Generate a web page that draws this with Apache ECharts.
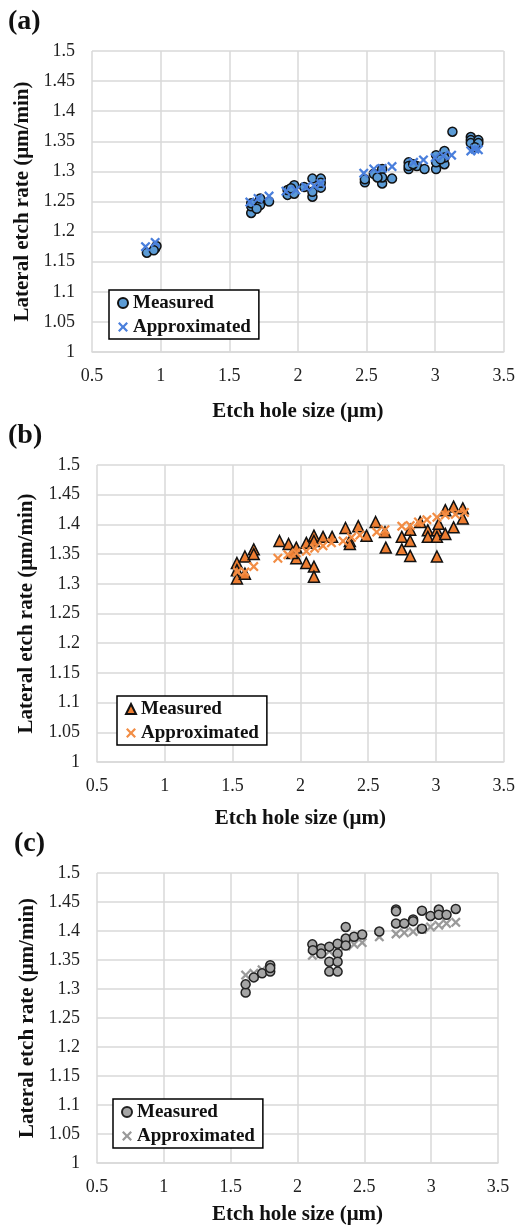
<!DOCTYPE html>
<html>
<head>
<meta charset="utf-8">
<script src="https://cdn.jsdelivr.net/npm/echarts@6/dist/echarts.min.js"></script>
<style>
  html, body { margin: 0; padding: 0; background: #fff; }
  #chart { width: 518px; height: 1226px; }
</style>
</head>
<body>
<div id="chart"></div>
<script>
// 三个子图的数据 (a) (b) (c)，[孔径 μm, 横向刻蚀速率 μm/min]
const aMeasured = [
  [0.90, 1.165], [0.96, 1.172], [0.97, 1.176], [0.95, 1.169],
  [1.66, 1.231], [1.66, 1.242], [1.66, 1.247], [1.725, 1.244], [1.725, 1.255], [1.79, 1.250], [1.70, 1.238],
  [1.925, 1.261], [1.925, 1.269], [1.973, 1.277], [1.973, 1.263], [2.046, 1.274], [2.106, 1.288],
  [2.106, 1.258], [2.167, 1.288], [2.167, 1.273], [2.106, 1.266], [2.167, 1.281], [1.95, 1.272],
  [2.488, 1.282], [2.488, 1.287], [2.553, 1.296], [2.614, 1.304], [2.614, 1.280], [2.614, 1.290],
  [2.686, 1.288], [2.58, 1.290],
  [2.807, 1.315], [2.807, 1.304], [2.867, 1.309], [2.923, 1.304], [2.807, 1.309], [2.84, 1.312],
  [3.007, 1.304], [3.007, 1.315], [3.007, 1.327], [3.068, 1.334], [3.068, 1.312], [3.068, 1.323],
  [3.04, 1.320], [3.126, 1.366],
  [3.26, 1.357], [3.26, 1.352], [3.26, 1.347], [3.315, 1.352], [3.315, 1.347], [3.29, 1.340]
];
const aApprox = [
  [0.89, 1.175], [0.96, 1.182],
  [1.65, 1.249], [1.71, 1.255], [1.79, 1.259],
  [1.913, 1.267], [1.985, 1.269], [2.058, 1.274], [2.118, 1.276], [2.167, 1.280],
  [2.48, 1.297], [2.553, 1.304], [2.614, 1.305], [2.686, 1.308],
  [2.843, 1.315], [2.915, 1.319],
  [3.0, 1.323], [3.06, 1.326], [3.12, 1.327],
  [3.26, 1.334], [3.29, 1.337], [3.315, 1.336]
];

const bMeasured = [
  [1.532, 1.335], [1.532, 1.323], [1.532, 1.309], [1.591, 1.346], [1.591, 1.317], [1.656, 1.358], [1.656, 1.350],
  [1.846, 1.372], [1.913, 1.367], [1.97, 1.361], [1.97, 1.343], [2.044, 1.369], [2.044, 1.335],
  [2.1, 1.381], [2.1, 1.372], [2.1, 1.329], [2.1, 1.312], [2.167, 1.379], [2.234, 1.379], [1.94, 1.352],
  [2.333, 1.394], [2.365, 1.372], [2.365, 1.367], [2.427, 1.397], [2.488, 1.381], [2.555, 1.404],
  [2.624, 1.387], [2.63, 1.361],
  [2.748, 1.379], [2.748, 1.358], [2.81, 1.391], [2.81, 1.372], [2.81, 1.347], [2.884, 1.404],
  [2.94, 1.390], [2.94, 1.379], [3.007, 1.390], [3.007, 1.379], [3.007, 1.346], [3.069, 1.384],
  [3.069, 1.424], [3.13, 1.430], [3.13, 1.395], [3.198, 1.427], [3.198, 1.410], [3.02, 1.401]
];
const bApprox = [
  [1.537, 1.320], [1.591, 1.320], [1.656, 1.329], [1.834, 1.343], [1.908, 1.349], [1.97, 1.352],
  [2.044, 1.355], [2.105, 1.360], [2.167, 1.364], [2.229, 1.369], [2.315, 1.372], [2.377, 1.378],
  [2.439, 1.382], [2.563, 1.387], [2.624, 1.391], [2.748, 1.397], [2.81, 1.398], [2.871, 1.404],
  [2.933, 1.408], [3.007, 1.412], [3.069, 1.416], [3.143, 1.417], [3.21, 1.420]
];

const cMeasured = [
  [1.612, 1.294], [1.612, 1.308], [1.673, 1.320], [1.735, 1.327], [1.796, 1.330], [1.796, 1.341], [1.796, 1.336],
  [2.111, 1.377], [2.177, 1.370], [2.177, 1.361], [2.238, 1.373], [2.238, 1.347], [2.238, 1.330],
  [2.3, 1.378], [2.3, 1.361], [2.3, 1.347], [2.3, 1.330], [2.361, 1.407], [2.361, 1.387], [2.361, 1.375],
  [2.423, 1.390], [2.484, 1.394], [2.115, 1.367],
  [2.612, 1.399],
  [2.737, 1.437], [2.737, 1.434], [2.737, 1.413], [2.799, 1.413], [2.865, 1.420], [2.865, 1.417],
  [2.931, 1.435], [2.931, 1.404], [2.995, 1.426], [3.057, 1.437], [3.057, 1.428], [3.115, 1.428], [3.184, 1.438]
];
const cApprox = [
  [1.612, 1.324], [1.673, 1.327], [1.735, 1.333], [1.796, 1.337],
  [2.111, 1.358], [2.177, 1.361], [2.238, 1.365], [2.3, 1.370], [2.361, 1.374], [2.423, 1.377], [2.484, 1.380],
  [2.612, 1.390], [2.737, 1.395], [2.799, 1.397], [2.865, 1.399], [2.931, 1.403], [2.995, 1.407],
  [3.057, 1.410], [3.115, 1.413], [3.184, 1.415]
];

const FONT = 'Liberation Serif';
// 叉号：填充多边形，避免 path 只描边
const CROSS = 'path://M0,1.6L1.6,0L5,3.4L8.4,0L10,1.6L6.6,5L10,8.4L8.4,10L5,6.6L1.6,10L0,8.4L3.4,5Z';

// 每个子图的位置
const panels = [
  { key: 'a', grid: { left: 92, top: 51, width: 413, height: 301 }, xGap: 49, yGap: 56,
    legend: { left: 109, top: 290 } },
  { key: 'b', grid: { left: 97, top: 465, width: 408, height: 297 }, xGap: 46, yGap: 60,
    legend: { left: 117, top: 696 } },
  { key: 'c', grid: { left: 97, top: 873, width: 401, height: 290 }, xGap: 41, yGap: 58,
    legend: { left: 113, top: 1099 } }
];

const gridLine = { lineStyle: { color: '#d9d9d9', width: 1.5 } };

function xAxisFor(p, i) {
  return {
    gridIndex: i,
    type: 'value',
    min: 0.5, max: 3.5, interval: 0.5,
    axisLine: { show: true, lineStyle: { color: '#d9d9d9', width: 1.5 } },
    axisTick: { show: false },
    splitLine: gridLine,
    axisLabel: { color: '#222', fontFamily: FONT, fontSize: 18, margin: 15 },
    name: 'Etch hole size (μm)',
    nameLocation: 'middle',
    nameGap: p.xGap,
    nameTextStyle: { color: '#111', fontFamily: FONT, fontSize: 21, fontWeight: 'bold' }
  };
}

function yAxisFor(p, i) {
  return {
    gridIndex: i,
    type: 'value',
    min: 1, max: 1.5, interval: 0.05,
    axisLine: { show: false },
    axisTick: { show: false },
    splitLine: gridLine,
    axisLabel: { color: '#222', fontFamily: FONT, fontSize: 18, margin: 17 },
    name: 'Lateral etch rate (μm/min)',
    nameLocation: 'middle',
    nameGap: p.yGap,
    nameTextStyle: { color: '#111', fontFamily: FONT, fontSize: 21, fontWeight: 'bold' }
  };
}

function legendFor(p, i) {
  return {
    left: p.legend.left,
    top: p.legend.top,
    orient: 'vertical',
    data: [p.key + ':Measured', p.key + ':Approximated'],
    formatter: name => name.split(':')[1],
    selectedMode: false,
    backgroundColor: '#fff',
    borderColor: '#000',
    borderWidth: 1.5,
    padding: [2, 8, 1, 8],
    itemGap: 2,
    itemWidth: 10,
    itemHeight: 10,
    textStyle: { color: '#111', fontFamily: FONT, fontSize: 19, fontWeight: 'bold', lineHeight: 22 }
  };
}

function measuredSeries(key, i, data, symbol, size, fill, border) {
  return {
    name: key + ':Measured',
    type: 'scatter',
    xAxisIndex: i, yAxisIndex: i,
    data: data,
    symbol: symbol,
    symbolSize: size,
    itemStyle: { color: fill, borderColor: border, borderWidth: 1.5, opacity: 1 },
    emphasis: { disabled: true }
  };
}

function approxSeries(key, i, data, color) {
  return {
    name: key + ':Approximated',
    type: 'scatter',
    xAxisIndex: i, yAxisIndex: i,
    data: data,
    symbol: CROSS,
    symbolSize: 10,
    itemStyle: { color: color, opacity: 1 },
    emphasis: { disabled: true }
  };
}

const option = {
  animation: false,
  backgroundColor: '#fff',
  grid: panels.map(p => Object.assign({ containLabel: false }, p.grid)),
  xAxis: panels.map(xAxisFor),
  yAxis: panels.map(yAxisFor),
  legend: panels.map(legendFor),
  series: [
    measuredSeries('a', 0, aMeasured, 'circle', 9, '#5b9bd5', '#111'),
    approxSeries('a', 0, aApprox, '#4a7fdc'),
    measuredSeries('b', 1, bMeasured, 'triangle', 11, '#ed7d31', '#111'),
    approxSeries('b', 1, bApprox, '#f28d45'),
    approxSeries('c', 2, cApprox, '#9a9a9a'),
    measuredSeries('c', 2, cMeasured, 'circle', 9, '#a5a5a5', '#222')
  ],
  // 子图编号
  graphic: [
    { type: 'text', left: 8, top: 8, style: { text: '(a)', font: 'bold 28px "Liberation Serif"', fill: '#111' } },
    { type: 'text', left: 8, top: 422, style: { text: '(b)', font: 'bold 28px "Liberation Serif"', fill: '#111' } },
    { type: 'text', left: 14, top: 830, style: { text: '(c)', font: 'bold 28px "Liberation Serif"', fill: '#111' } }
  ]
};

const chart = echarts.init(document.getElementById('chart'), null, { renderer: 'canvas' });
chart.setOption(option);
</script>
</body>
</html>
